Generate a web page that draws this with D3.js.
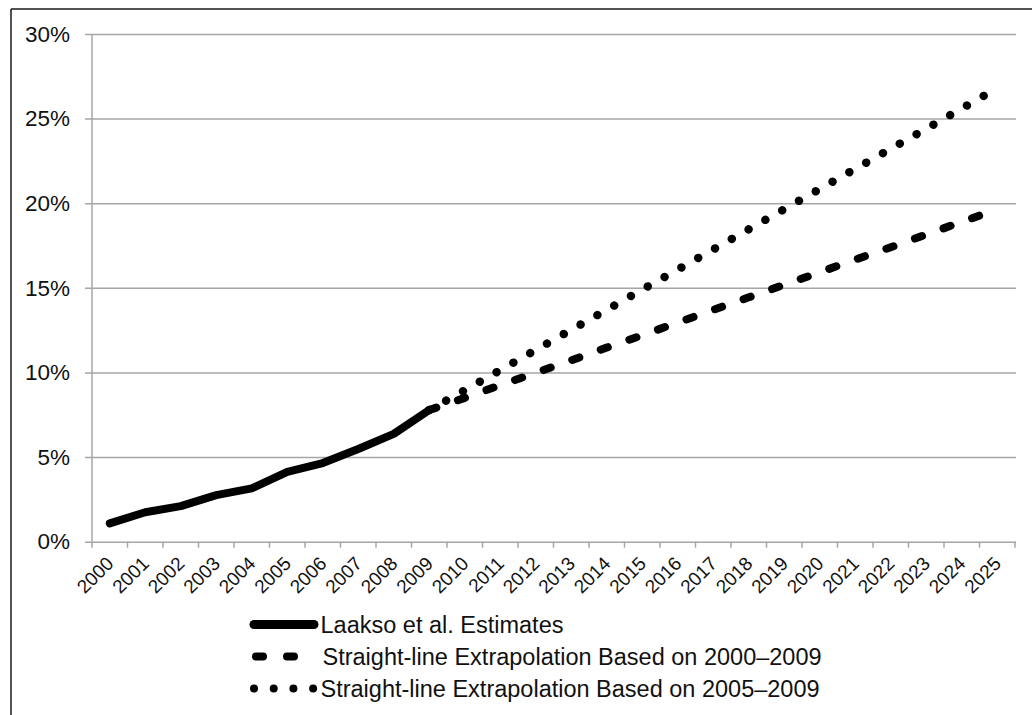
<!DOCTYPE html>
<html>
<head>
<meta charset="utf-8">
<script src="https://cdn.jsdelivr.net/npm/d3@7"></script>
<style>
  html, body { margin: 0; padding: 0; background: #fff; }
  svg { display: block; font-family: "Liberation Sans", Arial, sans-serif; }
</style>
</head>
<body>
<svg id="chart" width="1032" height="715"></svg>
<script>
// ---- data ----
const years = ["2000","2001","2002","2003","2004","2005","2006","2007","2008","2009","2010","2011","2012","2013","2014","2015","2016","2017","2018","2019","2020","2021","2022","2023","2024","2025"];
const estimateYears = ["2000","2001","2002","2003","2004","2005","2006","2007","2008","2009"];
const estimateValues = [1.08, 1.74, 2.1, 2.75, 3.15, 4.12, 4.65, 5.48, 6.37, 7.78];
const extrapYears = ["2009","2010","2011","2012","2013","2014","2015","2016","2017","2018","2019","2020","2021","2022","2023","2024","2025"];
const extrap2000Values = [7.78, 8.5, 9.25, 9.98, 10.72, 11.47, 12.2, 12.95, 13.7, 14.44, 15.18, 15.92, 16.67, 17.4, 18.15, 18.9, 19.64];
const extrap2005Values = [7.78, 8.95, 10.14, 11.33, 12.52, 13.7, 14.9, 16.08, 17.27, 18.46, 19.65, 20.84, 22.03, 23.22, 24.4, 25.6, 26.8];
const yTicks = [0, 5, 10, 15, 20, 25, 30];
const legendLabels = ["Laakso et al. Estimates", "Straight-line Extrapolation Based on 2000\u20132009", "Straight-line Extrapolation Based on 2005\u20132009"];

// ---- layout ----
const svg = d3.select("#chart");
const plotLeft = 92, plotRight = 1015, plotTop = 34, plotBottom = 541.7;
const gridColor = "#a6a6a6";

const x = d3.scaleBand().domain(years).range([plotLeft, plotRight]).padding(0);
const y = d3.scaleLinear().domain([0, 30]).range([plotBottom, plotTop]);
const cx = d => x(d) + x.bandwidth() / 2;

// frame
svg.append("line").attr("x1", 11).attr("x2", 11).attr("y1", 9).attr("y2", 715)
  .attr("stroke", "#1a1a1a").attr("stroke-width", 1.5);
svg.append("line").attr("x1", 11).attr("x2", 1032).attr("y1", 9).attr("y2", 9)
  .attr("stroke", "#1a1a1a").attr("stroke-width", 1.5);

// y axis with gridlines
const yAxis = d3.axisLeft(y).tickValues(yTicks).tickFormat(d => d + "%")
  .tickSize(-(plotRight - plotLeft + 1)).tickPadding(15);
const yg = svg.append("g").attr("transform", `translate(${plotLeft},0)`).call(yAxis);
yg.select(".domain").remove();
yg.selectAll(".tick line").attr("stroke", gridColor).attr("stroke-width", 1.5).attr("x1", -7);
yg.selectAll(".tick text").attr("font-size", 22.5).attr("fill", "#111")
  .attr("font-family", "'Liberation Sans', Arial, sans-serif").attr("x", -22);
svg.append("line").attr("x1", plotLeft).attr("x2", plotLeft).attr("y1", plotTop).attr("y2", plotBottom)
  .attr("stroke", gridColor).attr("stroke-width", 1.5);

// x axis ticks at category boundaries
const boundaries = years.map(d => x(d)).concat([x(years[years.length - 1]) + x.bandwidth()]);
svg.append("g").selectAll("line").data(boundaries).join("line")
  .attr("x1", d => d).attr("x2", d => d).attr("y1", plotBottom).attr("y2", plotBottom + 6)
  .attr("stroke", gridColor).attr("stroke-width", 1.5);

// x labels rotated
svg.append("g").selectAll("text").data(years).join("text")
  .attr("transform", d => `translate(${cx(d) + 5},${plotBottom + 23}) rotate(-45)`)
  .attr("text-anchor", "end")
  .attr("font-size", 19).attr("fill", "#111")
  .text(d => d);

// lines
const line = d3.line().x(d => cx(d[0])).y(d => y(d[1]));
svg.append("path").datum(extrapYears.map((d, i) => [d, extrap2000Values[i]]))
  .attr("d", line).attr("fill", "none").attr("stroke", "#000").attr("stroke-width", 8)
  .attr("stroke-linecap", "round").attr("stroke-dasharray", "7.5,22.8");
svg.append("path").datum(extrapYears.map((d, i) => [d, extrap2005Values[i]]))
  .attr("d", line).attr("fill", "none").attr("stroke", "#000").attr("stroke-width", 8.5)
  .attr("stroke-linecap", "round").attr("stroke-dasharray", "0.01,19.3");
svg.append("path").datum(estimateYears.map((d, i) => [d, estimateValues[i]]))
  .attr("d", line).attr("fill", "none").attr("stroke", "#000").attr("stroke-width", 8)
  .attr("stroke-linecap", "round").attr("stroke-linejoin", "round");

// legend
const legY = [624.5, 656.5, 688.5];
const lg = svg.append("g");
lg.append("line").attr("x1", 254).attr("x2", 314).attr("y1", legY[0]).attr("y2", legY[0])
  .attr("stroke", "#000").attr("stroke-width", 9).attr("stroke-linecap", "round");
lg.append("line").attr("x1", 256).attr("x2", 300).attr("y1", legY[1]).attr("y2", legY[1])
  .attr("stroke", "#000").attr("stroke-width", 8).attr("stroke-linecap", "round").attr("stroke-dasharray", "7,24");
lg.append("line").attr("x1", 254).attr("x2", 315).attr("y1", legY[2]).attr("y2", legY[2])
  .attr("stroke", "#000").attr("stroke-width", 8).attr("stroke-linecap", "round").attr("stroke-dasharray", "0.01,19.7");
lg.selectAll("text").data(legendLabels).join("text")
  .attr("x", (d, i) => i === 1 ? 322.5 : 320.5)
  .attr("y", (d, i) => legY[i] + 8.5)
  .attr("font-size", 23.5).attr("fill", "#111")
  .text(d => d);
</script>
</body>
</html>
